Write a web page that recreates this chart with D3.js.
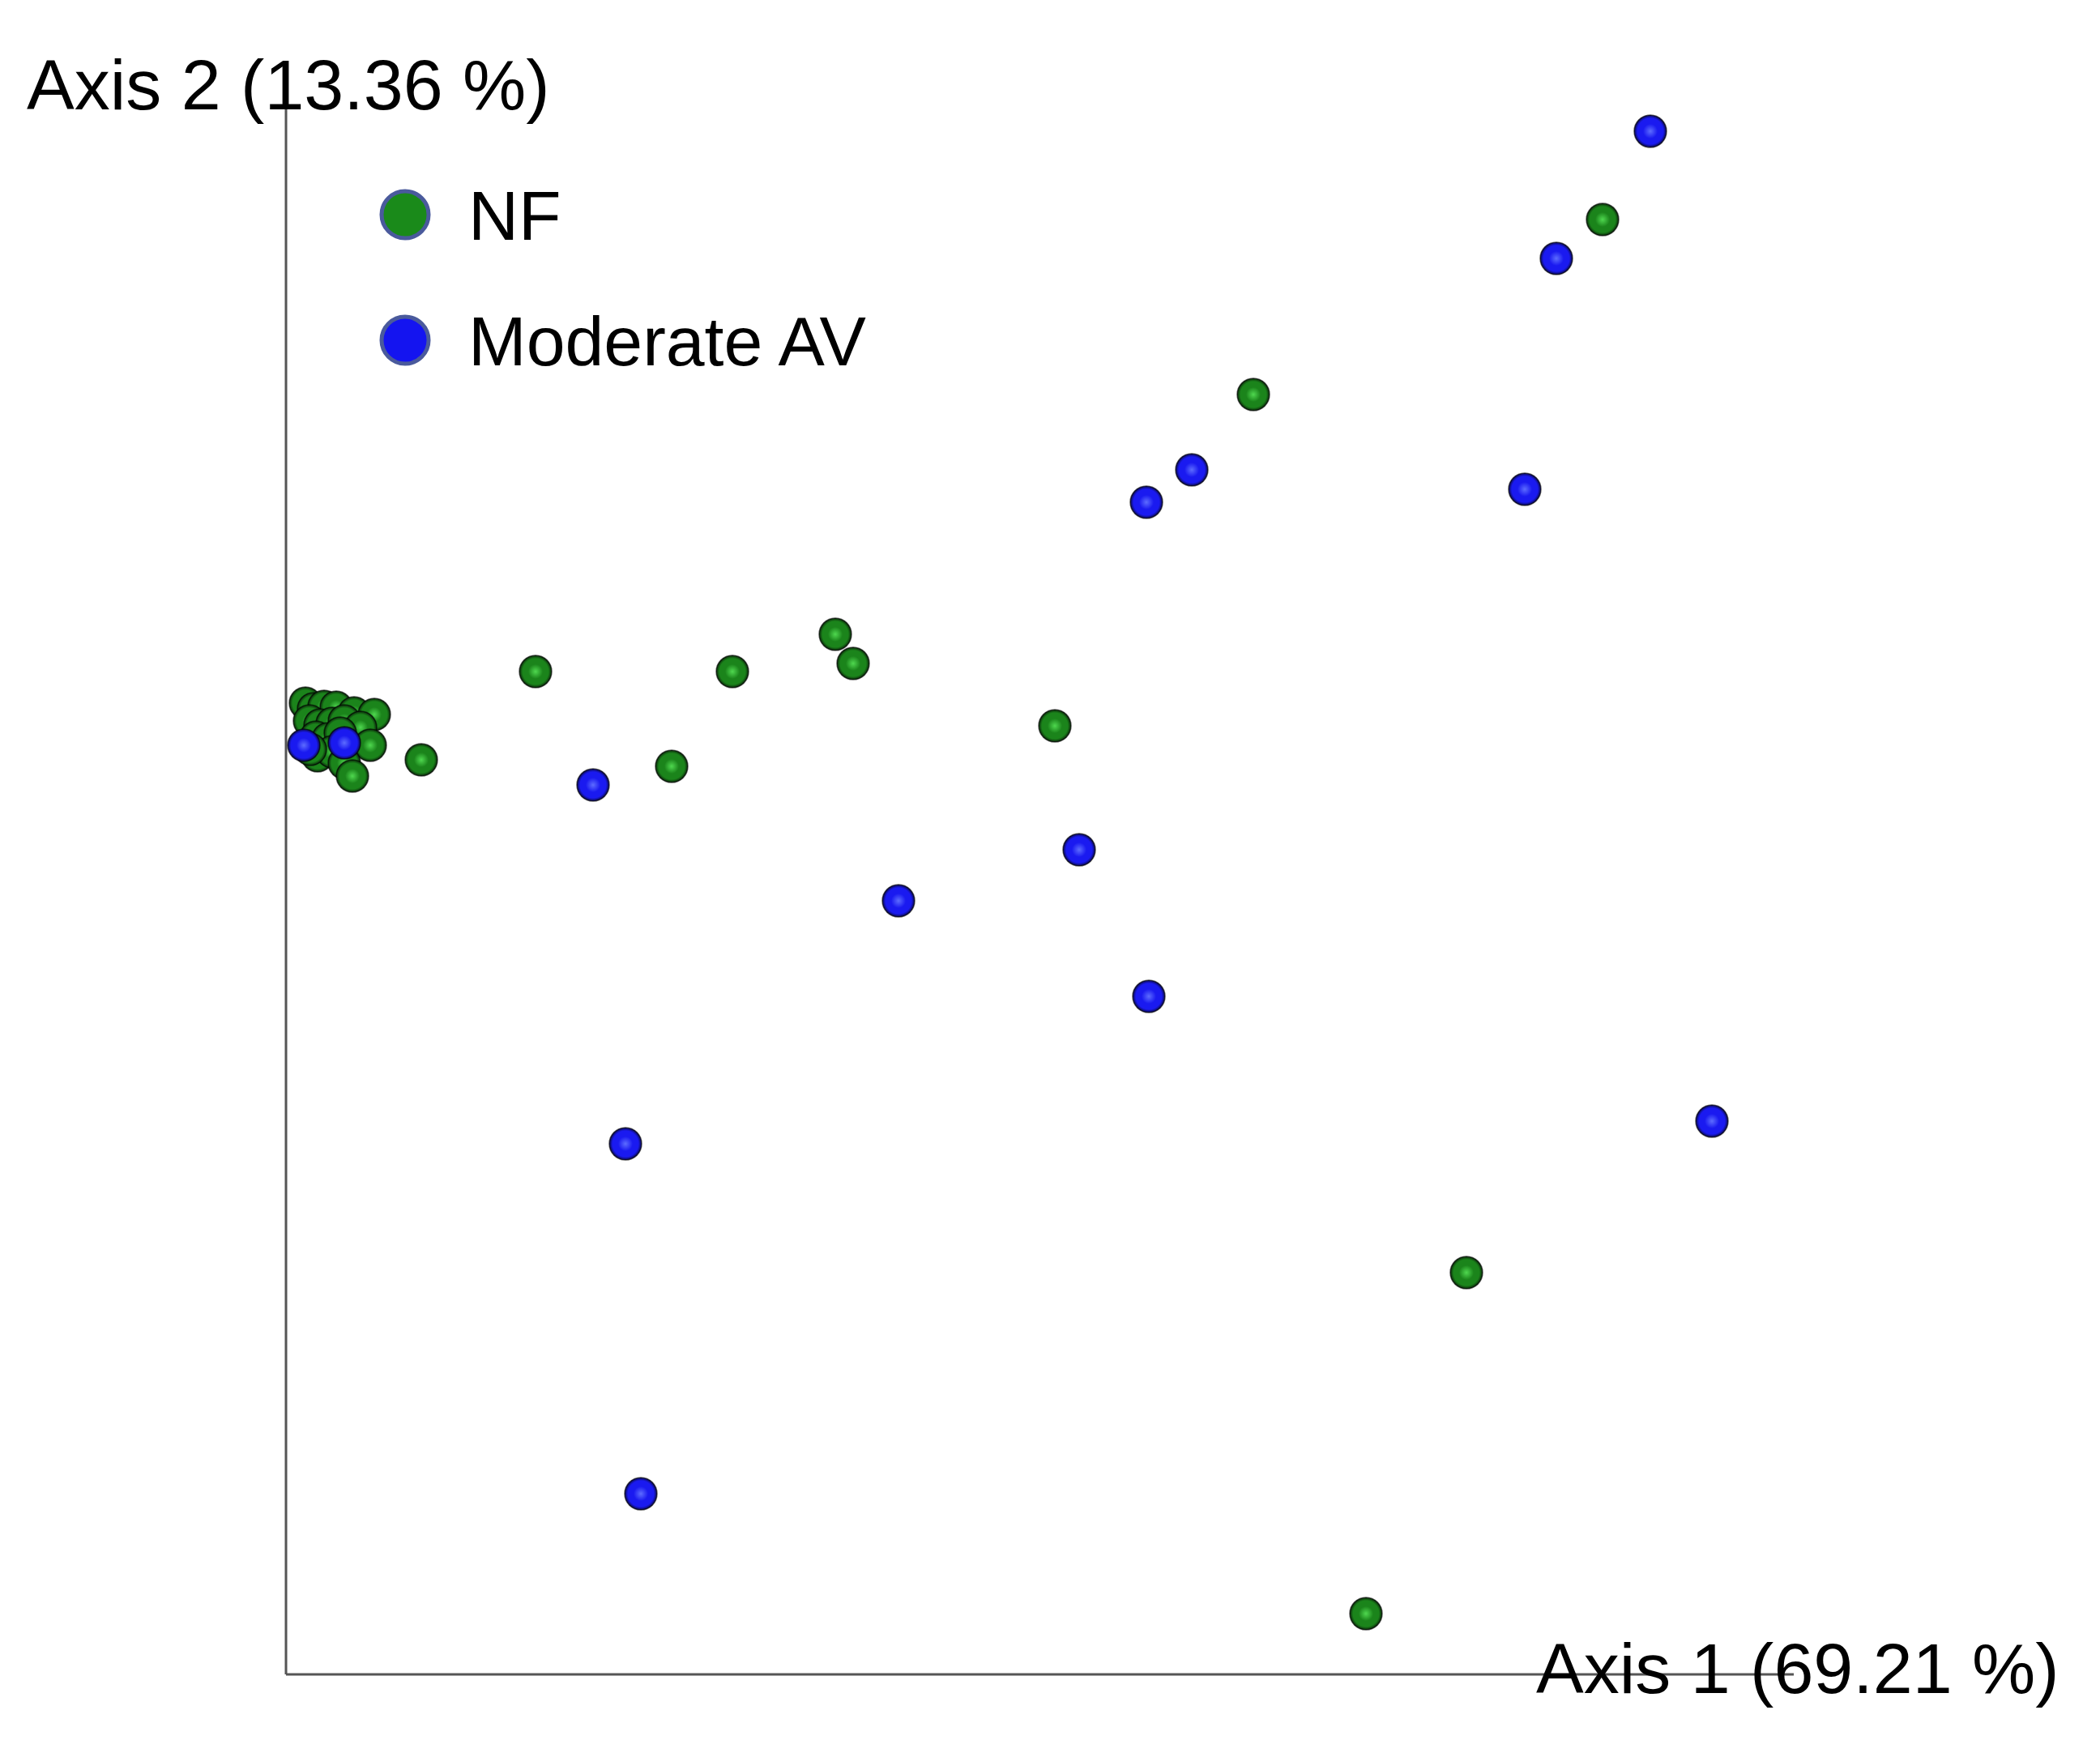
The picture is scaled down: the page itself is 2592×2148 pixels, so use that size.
<!DOCTYPE html>
<html lang="en">
	<head>
		<meta charset="UTF-8">
		<title>PCoA</title>
		<script src="https://d3js.org/d3.v7.min.js" charset="utf-8"></script>
		<style>
			body { margin: 0; background: #fff; }
			text { font-family: "Liberation Sans", Arial, sans-serif; fill: #000; }
		</style>
	</head>
	<body>
		<svg width="2592" height="2148"></svg>

		<script>
        // axis titles + legend names
        const axisLabels = ["Axis 1 (69.21 %)", "Axis 2 (13.36 %)"];
        const groups = ["NF", "Moderate AV"];

        // NF samples (axis 1, axis 2)
        const nfX = [1.625, 1.194, 0.678, 0.700, 0.551, 0.308, 0.949, 0.476, 0.167, 1.457, 1.333,
                     0.024, 0.034, 0.047, 0.062, 0.084, 0.109, 0.029, 0.042, 0.057, 0.072, 0.092,
                     0.037, 0.052, 0.067, 0.104, 0.039, 0.057, 0.072, 0.082, 0.030];
        const nfY = [1.796, 1.580, 1.284, 1.248, 1.238, 1.238, 1.171, 1.121, 1.129, 0.496, 0.075,
                     1.199, 1.192, 1.195, 1.194, 1.187, 1.185, 1.177, 1.172, 1.174, 1.177, 1.169,
                     1.157, 1.155, 1.162, 1.147, 1.134, 1.139, 1.125, 1.109, 1.142];

        // Moderate AV samples
        const avX = [1.684, 1.568, 1.118, 1.062, 1.529, 0.379, 0.979, 0.756, 1.065, 1.760, 0.419, 0.438, 0.022, 0.072];
        const avY = [1.905, 1.748, 1.487, 1.447, 1.463, 1.098, 1.018, 0.955, 0.837, 0.683, 0.655, 0.223, 1.147, 1.150];

        const svg = d3.select("svg");

        const x = d3.scaleLinear().domain([0, 1.861]).range([353, 2214]);
        const y = d3.scaleLinear().domain([0, 1.98]).range([2067, 87]);

        // sphere-like gradients
        const defs = svg.append("defs");
        function ball(id, hi, body, edge) {
            const g = defs.append("radialGradient").attr("id", id)
                .attr("cx", "50%").attr("cy", "50%").attr("r", "50%");
            g.append("stop").attr("offset", "0%").attr("stop-color", hi);
            g.append("stop").attr("offset", "45%").attr("stop-color", body);
            g.append("stop").attr("offset", "80%").attr("stop-color", body);
            g.append("stop").attr("offset", "100%").attr("stop-color", edge);
        }
        ball("gNF", "#4fd84f", "#1b841b", "#0a260a");
        ball("gAV", "#5d6cff", "#1a1af0", "#0a0a48");

        // axes (no ticks)
        svg.append("line")
            .attr("x1", x(0)).attr("x2", x(0))
            .attr("y1", y(0)).attr("y2", y.range()[1])
            .attr("stroke", "#555").attr("stroke-width", 3);
        svg.append("line")
            .attr("x1", x(0)).attr("x2", x.range()[1])
            .attr("y1", y(0)).attr("y2", y(0))
            .attr("stroke", "#555").attr("stroke-width", 3);

        svg.append("text")
            .attr("x", 33).attr("y", 135)
            .attr("font-size", 88)
            .text(axisLabels[1]);
        svg.append("text")
            .attr("x", 1896).attr("y", 2090)
            .attr("font-size", 88)
            .text(axisLabels[0]);

        const nf = nfX.map((d, i) => [d, nfY[i]]);
        const av = avX.map((d, i) => [d, avY[i]]);

        svg.append("g").selectAll("circle")
            .data(nf)
            .join("circle")
            .attr("cx", d => x(d[0]))
            .attr("cy", d => y(d[1]))
            .attr("r", 20)
            .attr("fill", "url(#gNF)")
            .attr("stroke", "#000")
            .attr("stroke-opacity", 0.6)
            .attr("stroke-width", 1.5);

        svg.append("g").selectAll("circle")
            .data(av)
            .join("circle")
            .attr("cx", d => x(d[0]))
            .attr("cy", d => y(d[1]))
            .attr("r", 20)
            .attr("fill", "url(#gAV)")
            .attr("stroke", "#000")
            .attr("stroke-opacity", 0.6)
            .attr("stroke-width", 1.5);

        // legend
        const legend = svg.append("g").attr("transform", "translate(500,265)");
        const legFill = ["#1a8a1a", "#1414f0"];
        groups.forEach((name, i) => {
            legend.append("circle")
                .attr("cx", 0).attr("cy", i * 155)
                .attr("r", 29)
                .attr("fill", legFill[i])
                .attr("stroke", "#4a5a9c")
                .attr("stroke-width", 5);
            legend.append("text")
                .attr("x", 78).attr("y", i * 155 + 31)
                .attr("font-size", 86)
                .text(name);
        });
		</script>
	</body>
</html>
